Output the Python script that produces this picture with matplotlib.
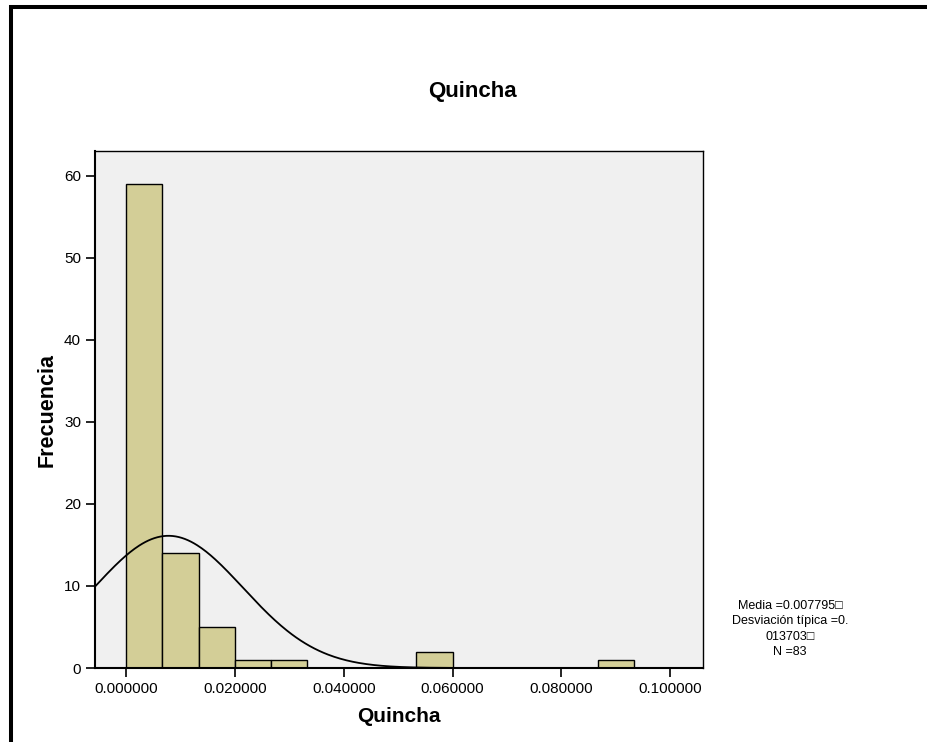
import numpy as np
import matplotlib
matplotlib.use("Agg")
import matplotlib.pyplot as plt
from matplotlib.lines import Line2D

plt.rcParams['font.family'] = ['Liberation Sans', 'DejaVu Sans']

# Data
bin_width = 0.1 / 15
bin_starts = [0.0, 1 * bin_width, 2 * bin_width, 3 * bin_width, 4 * bin_width, 8 * bin_width, 13 * bin_width]
counts = [59, 14, 5, 1, 1, 2, 1]
mean = 0.007795
std = 0.013703
n = 83
x_ticks = [0.0, 0.02, 0.04, 0.06, 0.08, 0.10]
x_tick_labels = ["0.000000", "0.020000", "0.040000", "0.060000", "0.080000", "0.100000"]
y_ticks = [0, 10, 20, 30, 40, 50, 60]

fig = plt.figure(figsize=(9.27, 7.42), dpi=100)
ax = fig.add_axes([95 / 927, 1 - 668 / 742, (703 - 95) / 927, (668 - 151) / 742])
ax.set_facecolor('#F0F0F0')

ax.bar(bin_starts, counts, width=bin_width, align='edge', color='#D3CE97',
       edgecolor='black', linewidth=1.0, zorder=2)

xmin, xmax = -0.0057, 0.1060
xs = np.linspace(xmin, xmax, 400)
ys = n * bin_width / (std * np.sqrt(2 * np.pi)) * np.exp(-0.5 * ((xs - mean) / std) ** 2)
ax.plot(xs, ys, color='black', linewidth=1.3, zorder=3)

ax.set_xlim(xmin, xmax)
ax.set_ylim(0, 63)
ax.set_xticks(x_ticks)
ax.set_xticklabels(x_tick_labels)
ax.set_yticks(y_ticks)
ax.tick_params(axis='both', labelsize=11, length=6.5, width=1.2, direction='out',
               color='black', pad=3.5)
for s in ax.spines.values():
    s.set_linewidth(1.0)
    s.set_color('black')
ax.spines['bottom'].set_linewidth(1.5)
ax.spines['left'].set_linewidth(1.5)

ax.set_xlabel('Quincha', fontsize=15, fontweight='bold')
ax.set_ylabel('Frecuencia', fontsize=15.5, fontweight='bold')
ax.xaxis.set_label_coords((399 - 95) / 608, (668 - 717) / 517)
ax.xaxis.label.set_va('center')
ax.yaxis.set_label_coords((47 - 95) / 608, (668 - 410) / 517)
ax.yaxis.label.set_va('center')

fig.text(472 / 927, 1 - 92 / 742, 'Quincha', fontsize=16, fontweight='bold',
         ha='center', va='center')

stats_lines = ["Media =0.007795\u25A1", "Desviación típica =0.", "013703\u25A1", "N =83"]
for i, line in enumerate(stats_lines):
    fig.text(790 / 927, 1 - (606 + i * 15.3) / 742, line, fontsize=9,
             ha='center', va='center', family=['Liberation Sans', 'DejaVu Sans'])

# Figure frame lines (top and left)
fig.add_artist(Line2D([9 / 927, 1.0], [1 - 7 / 742, 1 - 7 / 742], color='black',
                      linewidth=2.9, transform=fig.transFigure, solid_capstyle='butt'))
fig.add_artist(Line2D([11 / 927, 11 / 927], [1 - 5 / 742, 0.0], color='black',
                      linewidth=2.9, transform=fig.transFigure, solid_capstyle='butt'))

fig.savefig('out.png', dpi=100)
